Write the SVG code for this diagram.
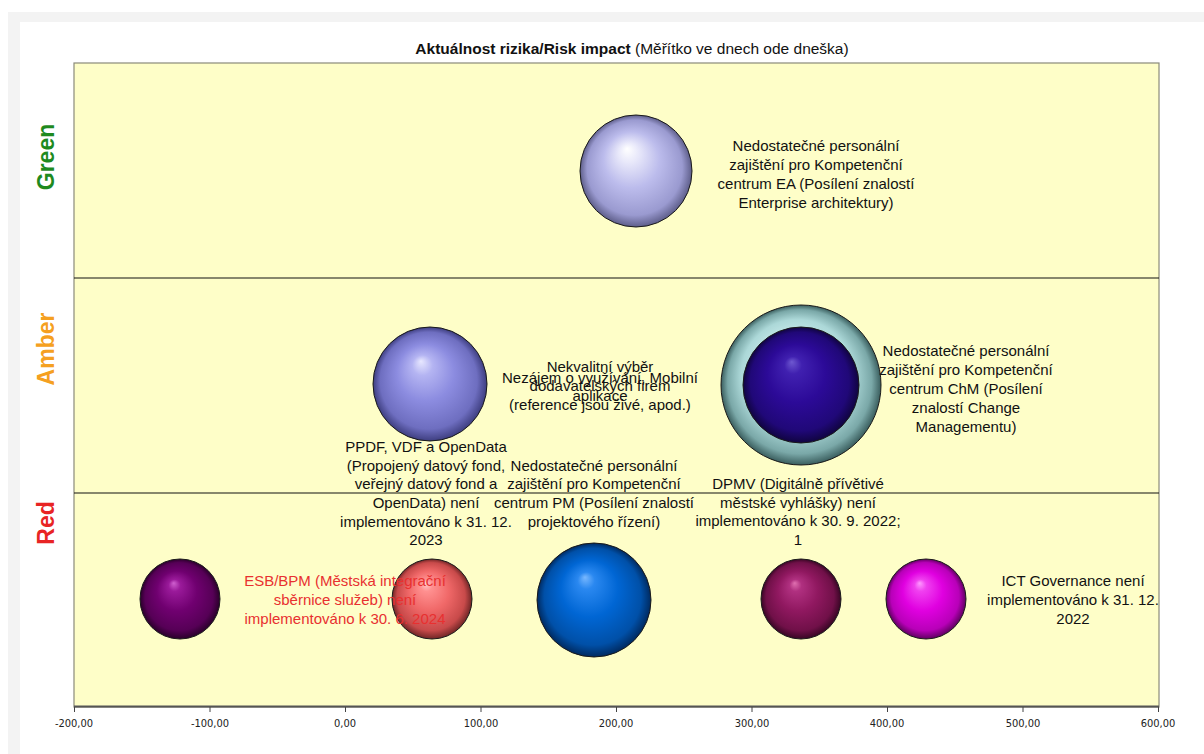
<svg xmlns="http://www.w3.org/2000/svg" width="1204" height="754" viewBox="0 0 1204 754">
  <style>
    .lbl { font-family: "Liberation Sans", Arial, sans-serif; font-size: 15px; fill: #111; text-anchor: middle; }
    .red { fill: #e83030; }
    .band { font-family: "Liberation Sans", Arial, sans-serif; font-size: 23px; font-weight: bold; text-anchor: middle; }
    .tick { font-family: "DejaVu Sans Condensed", "Liberation Sans Narrow", "Liberation Sans", sans-serif; font-size: 11px; fill: #222; text-anchor: middle; }
    .ball { stroke: #1a1a1a; stroke-width: 1; }
  </style>
  <defs>
    <radialGradient id="gEA" cx="0.5" cy="0.5" r="0.5" fx="0.42" fy="0.3">
      <stop offset="0" stop-color="#ffffff"/>
      <stop offset="0.18" stop-color="#e8e8fa"/>
      <stop offset="0.5" stop-color="#bcbcec"/>
      <stop offset="0.85" stop-color="#9a9ad0"/>
      <stop offset="1" stop-color="#5e5e8a"/>
    </radialGradient>
    <radialGradient id="gLav" cx="0.5" cy="0.5" r="0.5" fx="0.42" fy="0.3">
      <stop offset="0" stop-color="#e8e8ff"/>
      <stop offset="0.18" stop-color="#b4b4f2"/>
      <stop offset="0.5" stop-color="#8c8ce0"/>
      <stop offset="0.85" stop-color="#6e6ec0"/>
      <stop offset="1" stop-color="#3e3e80"/>
    </radialGradient>
    <radialGradient id="gCyan" cx="0.5" cy="0.5" r="0.5" fx="0.42" fy="0.3">
      <stop offset="0" stop-color="#f0ffff"/>
      <stop offset="0.3" stop-color="#cdeeee"/>
      <stop offset="0.7" stop-color="#acd8d8"/>
      <stop offset="0.9" stop-color="#7aa8a8"/>
      <stop offset="1" stop-color="#3a5e5e"/>
    </radialGradient>
    <radialGradient id="gNavy" cx="0.5" cy="0.5" r="0.5" fx="0.42" fy="0.3">
      <stop offset="0" stop-color="#6e58d0"/>
      <stop offset="0.15" stop-color="#4020b0"/>
      <stop offset="0.5" stop-color="#2c0a98"/>
      <stop offset="0.85" stop-color="#200878"/>
      <stop offset="1" stop-color="#100440"/>
    </radialGradient>
    <radialGradient id="gPurple" cx="0.5" cy="0.5" r="0.5" fx="0.42" fy="0.3">
      <stop offset="0" stop-color="#d060d0"/>
      <stop offset="0.15" stop-color="#9a1a9a"/>
      <stop offset="0.5" stop-color="#700070"/>
      <stop offset="0.85" stop-color="#560056"/>
      <stop offset="1" stop-color="#2a002a"/>
    </radialGradient>
    <radialGradient id="gSalmon" cx="0.5" cy="0.5" r="0.5" fx="0.42" fy="0.3">
      <stop offset="0" stop-color="#ffd0d0"/>
      <stop offset="0.15" stop-color="#ff9090"/>
      <stop offset="0.5" stop-color="#f06868"/>
      <stop offset="0.85" stop-color="#c84a4a"/>
      <stop offset="1" stop-color="#702626"/>
    </radialGradient>
    <radialGradient id="gBlue" cx="0.5" cy="0.5" r="0.5" fx="0.42" fy="0.3">
      <stop offset="0" stop-color="#78b8ff"/>
      <stop offset="0.15" stop-color="#2a88f0"/>
      <stop offset="0.5" stop-color="#0066d4"/>
      <stop offset="0.85" stop-color="#0050a8"/>
      <stop offset="1" stop-color="#002a60"/>
    </radialGradient>
    <radialGradient id="gMaroon" cx="0.5" cy="0.5" r="0.5" fx="0.42" fy="0.3">
      <stop offset="0" stop-color="#e070b0"/>
      <stop offset="0.15" stop-color="#b03080"/>
      <stop offset="0.5" stop-color="#901860"/>
      <stop offset="0.85" stop-color="#701048"/>
      <stop offset="1" stop-color="#380624"/>
    </radialGradient>
    <radialGradient id="gMagenta" cx="0.5" cy="0.5" r="0.5" fx="0.42" fy="0.3">
      <stop offset="0" stop-color="#ff9aff"/>
      <stop offset="0.15" stop-color="#f040f0"/>
      <stop offset="0.5" stop-color="#e000e0"/>
      <stop offset="0.85" stop-color="#b800b8"/>
      <stop offset="1" stop-color="#600060"/>
    </radialGradient>
  </defs>

  <!-- page -->
  <rect x="0" y="0" width="1204" height="754" fill="#ffffff"/>
  <rect x="8" y="12" width="1196" height="742" fill="#f3f3f3"/>
  <rect x="20" y="22" width="1184" height="732" fill="#ffffff"/>

  <!-- title -->
  <text x="632" y="54" font-family="Liberation Sans, Arial, sans-serif" font-size="15.5" fill="#111" text-anchor="middle"><tspan font-weight="bold">Aktuálnost rizika/Risk impact</tspan> (Měřítko ve dnech ode dneška)</text>

  <!-- plot area with the three bands -->
  <g id="plot">
    <rect x="74" y="63" width="1085" height="644" fill="#fefec8" stroke="#8a8a7a" stroke-width="1.2"/>
    <line x1="74" y1="278" x2="1159" y2="278" stroke="#111" stroke-width="1.2"/>
    <line x1="74" y1="493" x2="1159" y2="493" stroke="#111" stroke-width="1.2"/>
    <line x1="74" y1="706.5" x2="1159" y2="706.5" stroke="#555" stroke-width="2"/>
  </g>

  <!-- band names -->
  <g id="bands">
    <text class="band" fill="#1e8a1e" transform="translate(54 157) rotate(-90)">Green</text>
    <text class="band" fill="#f5a020" transform="translate(54 349) rotate(-90)">Amber</text>
    <text class="band" fill="#e82424" transform="translate(54 523) rotate(-90)">Red</text>
  </g>

  <!-- x axis -->
  <g id="axis" stroke="#444" stroke-width="1">
    <line x1="74.5" y1="707" x2="74.5" y2="712"/>
    <line x1="210" y1="707" x2="210" y2="712"/>
    <line x1="345.5" y1="707" x2="345.5" y2="712"/>
    <line x1="481" y1="707" x2="481" y2="712"/>
    <line x1="616.5" y1="707" x2="616.5" y2="712"/>
    <line x1="752" y1="707" x2="752" y2="712"/>
    <line x1="887.5" y1="707" x2="887.5" y2="712"/>
    <line x1="1023" y1="707" x2="1023" y2="712"/>
    <line x1="1158.5" y1="707" x2="1158.5" y2="712"/>
  </g>
  <g id="axis-labels">
    <text class="tick" x="74" y="727">-200,00</text>
    <text class="tick" x="210" y="727">-100,00</text>
    <text class="tick" x="345" y="727">0,00</text>
    <text class="tick" x="481" y="727">100,00</text>
    <text class="tick" x="616" y="727">200,00</text>
    <text class="tick" x="752" y="727">300,00</text>
    <text class="tick" x="887" y="727">400,00</text>
    <text class="tick" x="1023" y="727">500,00</text>
    <text class="tick" x="1158" y="727">600,00</text>
  </g>

  <!-- risk bubbles -->
  <g id="risk-ea">
    <circle class="ball" cx="636" cy="171" r="56" fill="url(#gEA)"/>
    <text class="lbl" x="816" y="151">Nedostatečné personální</text>
    <text class="lbl" x="816" y="170">zajištění pro Kompetenční</text>
    <text class="lbl" x="816" y="189">centrum EA (Posílení znalostí</text>
    <text class="lbl" x="816" y="208">Enterprise architektury)</text>
  </g>

  <g id="risk-dodavatele">
    <circle class="ball" cx="430" cy="384" r="57" fill="url(#gLav)"/>
    <text class="lbl" x="600" y="372">Nekvalitní výběr</text>
    <text class="lbl" x="600" y="391">dodavatelských firem</text>
    <text class="lbl" x="600" y="410">(reference jsou živé, apod.)</text>
  </g>

  <g id="risk-mobilni">
    <text class="lbl" x="600" y="383">Nezájem o využívání, Mobilní</text>
    <text class="lbl" x="600" y="401">aplikace</text>
  </g>

  <g id="risk-chm">
    <circle class="ball" cx="801" cy="385" r="80" fill="url(#gCyan)"/>
    <circle class="ball" cx="801" cy="385" r="58" fill="url(#gNavy)"/>
    <text class="lbl" x="966" y="356">Nedostatečné personální</text>
    <text class="lbl" x="966" y="375">zajištění pro Kompetenční</text>
    <text class="lbl" x="966" y="394">centrum ChM (Posílení</text>
    <text class="lbl" x="966" y="413">znalostí Change</text>
    <text class="lbl" x="966" y="432">Managementu)</text>
  </g>

  <g id="risk-esb">
    <circle class="ball" cx="180" cy="599" r="40" fill="url(#gPurple)"/>
  </g>

  <g id="risk-ppdf">
    <circle class="ball" cx="432" cy="599" r="40" fill="url(#gSalmon)"/>
    <text class="lbl" x="426" y="452">PPDF, VDF a OpenData</text>
    <text class="lbl" x="426" y="471">(Propojený datový fond,</text>
    <text class="lbl" x="426" y="489">veřejný datový fond a</text>
    <text class="lbl" x="426" y="508">OpenData) není</text>
    <text class="lbl" x="426" y="527">implementováno k 31. 12.</text>
    <text class="lbl" x="426" y="545">2023</text>
  </g>

  <g id="esb-label">
    <text class="lbl red" x="345" y="586">ESB/BPM (Městská integrační</text>
    <text class="lbl red" x="345" y="605">sběrnice služeb) není</text>
    <text class="lbl red" x="345" y="624">implementováno k 30. 6. 2024</text>
  </g>

  <g id="risk-pm">
    <circle class="ball" cx="594" cy="600" r="57" fill="url(#gBlue)"/>
    <text class="lbl" x="594" y="471">Nedostatečné personální</text>
    <text class="lbl" x="594" y="489">zajištění pro Kompetenční</text>
    <text class="lbl" x="594" y="508">centrum PM (Posílení znalostí</text>
    <text class="lbl" x="594" y="527">projektového řízení)</text>
  </g>

  <g id="risk-dpmv">
    <circle class="ball" cx="801" cy="599" r="40" fill="url(#gMaroon)"/>
    <text class="lbl" x="798" y="489">DPMV (Digitálně přívětivé</text>
    <text class="lbl" x="798" y="508">městské vyhlášky) není</text>
    <text class="lbl" x="798" y="526">implementováno k 30. 9. 2022;</text>
    <text class="lbl" x="798" y="545">1</text>
  </g>

  <g id="risk-ict">
    <circle class="ball" cx="926" cy="599" r="40" fill="url(#gMagenta)"/>
    <text class="lbl" x="1073" y="586">ICT Governance není</text>
    <text class="lbl" x="1073" y="605">implementováno k 31. 12.</text>
    <text class="lbl" x="1073" y="624">2022</text>
  </g>
</svg>
